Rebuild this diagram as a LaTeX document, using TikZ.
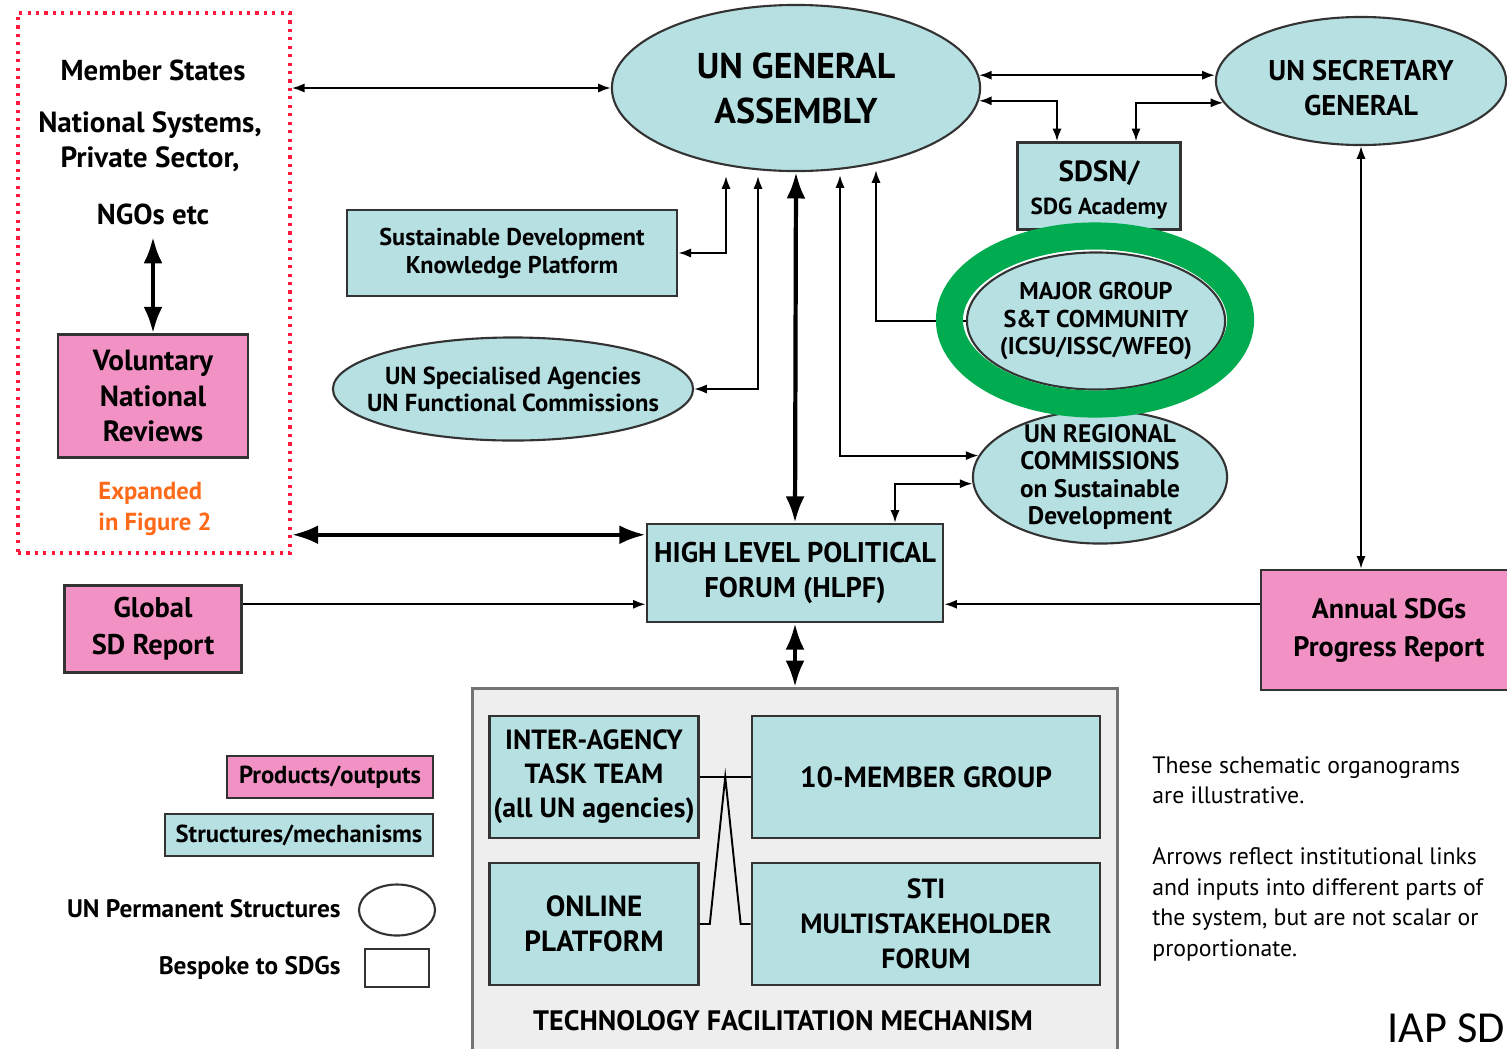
\documentclass[tikz,border=0pt]{standalone}
\usepackage{fontspec}
\setmainfont{PT Sans}
\newfontfamily\iapfont{Carlito}
\usetikzlibrary{shapes.geometric,arrows.meta,calc}

\newcommand\fsz[2]{\fontsize{#1}{#2}\selectfont}

\begin{document}
\begin{tikzpicture}[x=0.01cm,y=-0.01cm,>={Latex[length=3.6pt,width=2.6pt]},
  ell/.style={ellipse,draw=black!80,fill=sdcyan,line width=0.6pt,inner xsep=-4mm,inner ysep=-2mm,align=center},
  box/.style={rectangle,draw=black!80,fill=sdcyan,line width=0.7pt,inner sep=0pt,align=center},
  prod/.style={box,fill=sdpink},
  lnk/.style={line width=0.55pt},
  big/.style={line width=1.2pt,{Latex[length=7.5pt,width=5.4pt]}-{Latex[length=7.5pt,width=5.4pt]}}]
\definecolor{sdcyan}{HTML}{B7E0E3}
\definecolor{sdpink}{HTML}{F291C3}
\definecolor{ringgreen}{HTML}{00AC4F}
\definecolor{dotred}{HTML}{FF1A3C}
\definecolor{exporange}{HTML}{FF6A1A}
\definecolor{tfmgray}{HTML}{EEEEEE}
\useasboundingbox (0,0) rectangle (1507,1048);
\clip (0,0) rectangle (1507,1048);

\node (msbox) [draw=dotred,line width=1pt,dash pattern=on 0.9pt off 1.5pt,minimum width=2.72cm,minimum height=5.40cm] at (154,283) {};
\node (ms) [font=\bfseries\fsz{8.2}{10}] at (153,70) {Member States};
\node (nat) [font=\bfseries\fsz{8.3}{10},align=center] at (150,142) {National Systems,\\Private Sector,};
\node (ngo) [font=\bfseries\fsz{8.2}{10}] at (153,214) {NGOs etc};
\node (vnr) [prod,minimum width=1.90cm,minimum height=1.23cm,font=\bfseries\fsz{8.3}{10.2}] at (153,396) {Voluntary\\National\\Reviews};
\node (exp) [anchor=west,align=left,text=exporange,font=\bfseries\fsz{7}{8.6}] at (86,509) {Expanded\\in Figure 2};

\node (ga) [ell,minimum width=3.68cm,minimum height=1.66cm,font=\bfseries\fsz{10.2}{12.8}] at (796,88) {UN GENERAL\\ASSEMBLY};
\node (sg) [ell,minimum width=2.90cm,minimum height=1.28cm,font=\bfseries\fsz{8.1}{10}] at (1361,81) {\rule{0pt}{9.8pt}UN SECRETARY\\GENERAL};
\node (sdsn) [box,minimum width=1.63cm,minimum height=0.87cm,font=\bfseries\fsz{8.3}{9.4}] at (1099,186) {\rule{0pt}{8.4pt}SDSN/\\{\fsz{6.6}{8}SDG Academy}};
\node (skp) [box,minimum width=3.30cm,minimum height=0.86cm,font=\bfseries\fsz{6.9}{8}] at (512,253) {Sustainable Development\\Knowledge Platform};
\node (spec) [ell,minimum width=3.60cm,minimum height=1.03cm,font=\bfseries\fsz{7}{7.7}] at (513,389) {UN Specialised Agencies\\UN Functional Commissions};
\node (mg) [ell,minimum width=2.58cm,minimum height=1.37cm,font=\bfseries\fsz{6.9}{7.8}] at (1096,321) {MAJOR GROUP\\S\&T COMMUNITY\\(ICSU/ISSC/WFEO)};
\node (reg) [ell,minimum width=2.54cm,minimum height=1.33cm,font=\bfseries\fsz{7.2}{7.8}] at (1100,477) {UN REGIONAL\\COMMISSIONS\\on Sustainable\\Development};
\node (hlpf) [box,minimum width=2.96cm,minimum height=0.98cm,font=\bfseries\fsz{8.1}{10}] at (795,573) {HIGH LEVEL POLITICAL\\FORUM (HLPF)};
\node (gsd) [prod,minimum width=1.77cm,minimum height=0.87cm,font=\bfseries\fsz{8.1}{10.5}] at (153,629) {Global\\SD Report};
\node (ap) [prod,minimum width=2.56cm,minimum height=1.20cm,font=\bfseries\fsz{8}{10.8}] at (1389,630) {Annual SDGs\\Progress Report};

\node (tfm) [draw=black!55,fill=tfmgray,line width=0.8pt,minimum width=6.45cm,minimum height=3.75cm] at (795,876) {};
\node (tfml) [font=\bfseries\fsz{8}{10}] at (783,1021) {TECHNOLOGY FACILITATION MECHANISM};
\node (ia) [box,minimum width=2.09cm,minimum height=1.22cm,font=\bfseries\fsz{7.9}{9.7}] at (594,777) {INTER-AGENCY\\TASK TEAM\\(all UN agencies)};
\node (tmg) [box,minimum width=3.48cm,minimum height=1.22cm,font=\bfseries\fsz{8.3}{10}] at (926,777) {10-MEMBER GROUP};
\node (op) [box,minimum width=2.09cm,minimum height=1.22cm,font=\bfseries\fsz{8.3}{10}] at (594,924) {ONLINE\\PLATFORM};
\node (sti) [box,minimum width=3.48cm,minimum height=1.22cm,font=\bfseries\fsz{7.9}{10}] at (926,924) {STI\\MULTISTAKEHOLDER\\FORUM};

\node (lprod) [prod,minimum width=2.06cm,minimum height=0.42cm,font=\bfseries\fsz{7}{8}] at (330,777) {Products/outputs};
\node (lstr) [box,minimum width=2.68cm,minimum height=0.42cm,font=\bfseries\fsz{7}{8}] at (299,835) {Structures/mechanisms};
\node (lell) [ellipse,draw=black!80,line width=0.6pt,minimum width=0.76cm,minimum height=0.51cm] at (397,910) {};
\node (lperm) [anchor=east,font=\bfseries\fsz{7.2}{8}] at (353,909) {UN Permanent Structures};
\node (lrect) [draw=black!80,line width=0.6pt,minimum width=0.64cm,minimum height=0.38cm] at (397,968) {};
\node (lbesp) [anchor=east,font=\bfseries\fsz{7.2}{8}] at (353,968) {Bespoke to SDGs};

\node (note) [anchor=north west,align=left,font=\fsz{6.75}{8.7}] at (1140,744) {These schematic organograms\\are illustrative.\\[8.6pt]Arrows reflect institutional links\\and inputs into different parts of\\the system, but are not scalar or\\proportionate.};
\node (iap) [anchor=west,font=\iapfont\fsz{12.6}{15}] at (1375,1028) {IAP SD};

\draw[lnk,<->] (msbox.east |- ga.west) -- (ga.west);
\draw[lnk,<->] (ga.4) -- (ga.4 -| sg.west);
\draw[lnk,<->] (ga.-4) -| ($(sdsn.north)+(-42,0)$);
\draw[lnk,<->] (sg.189) -| ($(sdsn.north)+(37,0)$);
\draw[lnk,<->] (sg.south) -- (sg.south |- ap.north);
\draw[lnk,<->] ($(ga.south)+(-70,4)$) |- (skp.east);
\draw[lnk,<->] ($(ga.south)+(-38,4)$) |- (spec.east);
\draw[big] (ga.south) -- (hlpf.north);
\draw[lnk,<->] ($(ga.south)+(44,3)$) |- (reg.170);
\draw[lnk,->] (mg.west) -| ($(ga.south)+(80,-2)$);
\draw[lnk,<->] ($(hlpf.north)+(100,0)$) |- (reg.183);
\coordinate (hin) at ($(hlpf.north west)+(0,12)$);
\draw[big] (msbox.east |- hin) -- (hin);
\coordinate (hrep) at ($(hlpf.south west)+(0,-19)$);
\draw[lnk,->] (gsd.east |- hrep) -- (hrep);
\draw[lnk,->] (ap.west |- hrep) -- (hrep -| hlpf.east);
\draw[big] (hlpf.south) -- (tfm.north);
\draw[big] (ngo.south) -- (vnr.north);
\draw[lnk] (ia.east) -- (tmg.west);
\draw[lnk] (op.east) -- ++(10,0) -- ($(ia.east)!.5!(tmg.west)$) -- ($(sti.west)+(-10,0)$) -- (sti.west);

\node (ring) [ellipse,draw=ringgreen,line width=7.7pt,minimum width=2.91cm,minimum height=1.68cm] at (1095,320) {};
\end{tikzpicture}
\end{document}
